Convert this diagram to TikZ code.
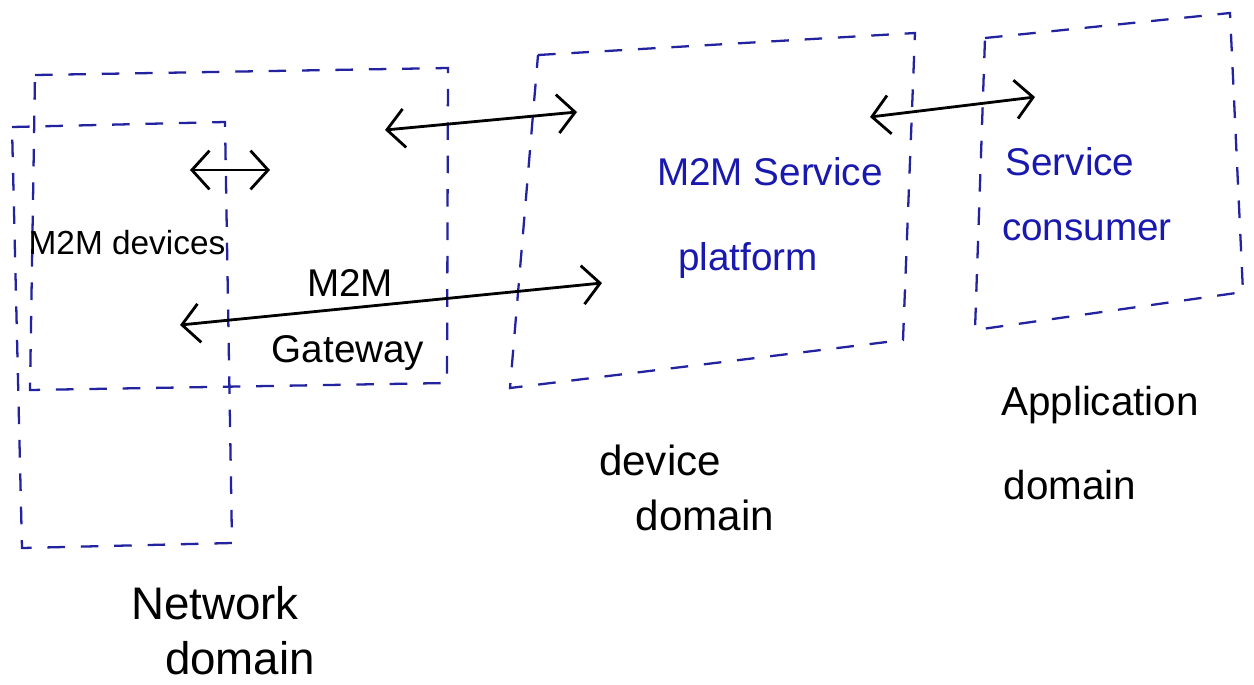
\documentclass[tikz,border=0pt]{standalone}
\usepackage{fontspec}
\setmainfont{Liberation Sans}
\usetikzlibrary{arrows.meta}
\definecolor{penblue}{RGB}{35,35,160}
\definecolor{inkblue}{RGB}{25,25,175}
\begin{document}
\begin{tikzpicture}[x=0.02cm,y=-0.02cm,
  domainbox/.style={draw=penblue, line width=1.3pt, dash pattern=on 10pt off 9pt},
  link/.style={draw=black, line width=1.6pt, {Straight Barb[length=10pt,width=22pt]}-{Straight Barb[length=10pt,width=22pt]}},
  lbl/.style={font=\fontsize{22}{26}\selectfont, text=black, inner sep=0pt},
  bluelbl/.style={lbl, text=inkblue}]
\useasboundingbox (0,0) rectangle (1254,684);
\fill[white] (0,0) rectangle (1254,684);

% network domain box
\coordinate (netTL) at (12,127);
\coordinate (netTR) at (225,122);
\coordinate (netBR) at (232,543);
\coordinate (netBL) at (22,548);
\draw[domainbox] (netTL) -- (netTR) -- (netBR) -- (netBL) -- cycle;

% gateway box
\coordinate (gwTL) at (35,75);
\coordinate (gwTR) at (448,68);
\coordinate (gwBR) at (447,383);
\coordinate (gwBL) at (30,390);
\draw[domainbox] (gwTL) -- (gwTR) -- (gwBR) -- (gwBL) -- cycle;

% device domain box
\coordinate (devTL) at (538,55);
\coordinate (devTR) at (915,33);
\coordinate (devBR) at (903,340);
\coordinate (devBL) at (510,388);
\draw[domainbox] (devTL) -- (devTR) -- (devBR) -- (devBL) -- cycle;

% application domain box
\coordinate (appTL) at (985,38);
\coordinate (appTR) at (1230,13);
\coordinate (appBR) at (1243,292);
\coordinate (appBL) at (975,330);
\draw[domainbox] (appTL) -- (appTR) -- (appBR) -- (appBL) -- cycle;

% labels
\node[lbl, font=\fontsize{19}{23}\selectfont] (devices) at (127,243) {M2M devices};
\node[lbl] (gwA) at (350,283) {M2M};
\node[lbl] (gwB) at (348,353) {Gateway};
\node[bluelbl] (platA) at (770,172) {M2M Service};
\node[bluelbl] (platB) at (748,260) {platform};
\node[bluelbl] (consA) at (1070,162) {Service};
\node[bluelbl] (consB) at (1087,230) {consumer};
\node[lbl, font=\fontsize{26}{30}\selectfont] (netA) at (215,603) {Network};
\node[lbl, font=\fontsize{26}{30}\selectfont] (netB) at (240,658) {domain};
\node[lbl, font=\fontsize{24}{28}\selectfont] (ddA) at (660,460) {device};
\node[lbl, font=\fontsize{24}{28}\selectfont] (ddB) at (705,515) {domain};
\node[lbl, font=\fontsize{23}{27}\selectfont] (adA) at (1100,405) {Application};
\node[lbl, font=\fontsize{23}{27}\selectfont] (adB) at (1070,485) {domain};

% connectors
\coordinate (a1l) at (190,170);
\coordinate (a1r) at (270,170);
\coordinate (a2l) at (385,130);
\coordinate (a2r) at (577,112);
\coordinate (a3l) at (870,117);
\coordinate (a3r) at (1035,97);
\coordinate (a4l) at (180,325);
\coordinate (a4r) at (602,283);
\draw[link] (a1l) -- (a1r);
\draw[link] (a2l) -- (a2r);
\draw[link] (a3l) -- (a3r);
\draw[link] (a4l) -- (a4r);
\end{tikzpicture}
\end{document}
